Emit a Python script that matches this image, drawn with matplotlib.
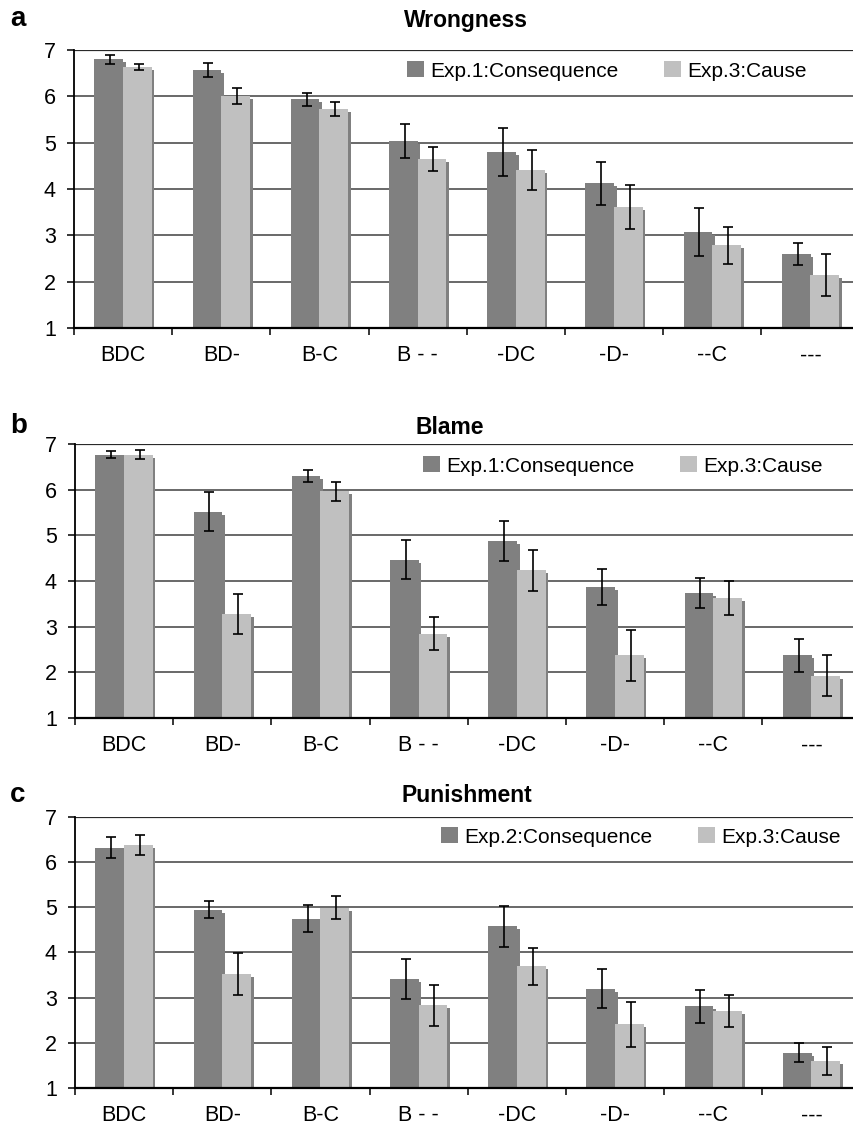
import numpy as np
import matplotlib
matplotlib.use('Agg')
import matplotlib.pyplot as plt

plt.rcParams['font.family'] = ['Liberation Sans', 'DejaVu Sans']

categories = ['BDC', 'BD-', 'B-C', 'B - -', '-DC', '-D-', '--C', '---']

# a: Wrongness
wrong_cons = [6.80, 6.57, 5.94, 5.03, 4.79, 4.12, 3.07, 2.59]
wrong_cons_err = [0.10, 0.15, 0.14, 0.37, 0.52, 0.47, 0.51, 0.24]
wrong_cause = [6.63, 6.01, 5.73, 4.64, 4.41, 3.61, 2.79, 2.14]
wrong_cause_err = [0.07, 0.18, 0.15, 0.26, 0.43, 0.47, 0.40, 0.45]

# b: Blame
blame_cons = [6.77, 5.52, 6.30, 4.47, 4.87, 3.87, 3.73, 2.37]
blame_cons_err = [0.07, 0.42, 0.13, 0.43, 0.44, 0.39, 0.33, 0.37]
blame_cause = [6.77, 3.28, 5.96, 2.85, 4.23, 2.37, 3.62, 1.93]
blame_cause_err = [0.10, 0.44, 0.20, 0.36, 0.44, 0.55, 0.37, 0.44]

# c: Punishment
pun_cons = [6.32, 4.95, 4.75, 3.42, 4.58, 3.20, 2.81, 1.78]
pun_cons_err = [0.23, 0.18, 0.30, 0.44, 0.45, 0.43, 0.36, 0.21]
pun_cause = [6.38, 3.53, 4.99, 2.83, 3.70, 2.41, 2.70, 1.59]
pun_cause_err = [0.23, 0.46, 0.25, 0.45, 0.41, 0.50, 0.35, 0.31]

W, H = 854, 1132
fig = plt.figure(figsize=(W / 100, H / 100), dpi=100)

DARK = '#808080'
LIGHT = '#C0C0C0'
SHADOW = '#808080'


def panel(letter, title, cons, cons_err, cause, cause_err, leg1,
          left, top, bottom, title_x, title_y, letter_y, leg_x, leg_y):
    ax = fig.add_axes([left / W, 1 - bottom / H, (W - left) / W, (bottom - top) / H])
    x = np.arange(len(categories))
    bw = 0.292
    ppu = (bottom - top) / 6.0
    dx = 2.7 / 98.2
    dy = 3.0 / ppu

    # drop shadows behind the bars
    ax.bar(x - bw / 2 + dx, np.array(cons) - dy, bw, color=SHADOW, zorder=2)
    ax.bar(x + bw / 2 + dx, np.array(cause) - dy, bw, color=SHADOW, zorder=2)
    b1 = ax.bar(x - bw / 2, cons, bw, color=DARK, zorder=3, label=leg1)
    b2 = ax.bar(x + bw / 2, cause, bw, color=LIGHT, zorder=3, label='Exp.3:Cause')
    ax.errorbar(x - bw / 2 + dx / 2, cons, yerr=cons_err, fmt='none', ecolor='black',
                elinewidth=1.2, capsize=3.4, capthick=1.2, zorder=5)
    ax.errorbar(x + bw / 2 + dx / 2, cause, yerr=cause_err, fmt='none', ecolor='black',
                elinewidth=1.2, capsize=3.4, capthick=1.2, zorder=5)

    ax.set_ylim(1, 7)
    ax.set_xlim(-0.5, -0.5 + (W - left) / 98.2)
    ax.set_yticks(range(1, 8))
    for yv in range(2, 8):
        ax.axhline(yv, color='#2a2a2a' if yv == 7 else '#404040',
                   lw=1.6 if yv == 7 else 1.1, zorder=1)

    ax.set_xticks(np.arange(-0.5, 7.0, 1.0))
    ax.set_xticklabels([])
    ax.set_xticks(x, minor=True)
    ax.set_xticklabels(categories, minor=True, fontsize=15.5)
    ax.tick_params(axis='x', which='major', length=5, width=1.1, direction='out')
    ax.tick_params(axis='x', which='minor', length=0, pad=12.5)
    ax.tick_params(axis='y', length=5, width=1.1, direction='out', pad=8, labelsize=15.5)

    for s in ['top', 'right']:
        ax.spines[s].set_visible(False)
    ax.spines['left'].set_linewidth(1.3)
    ax.spines['bottom'].set_linewidth(1.6)
    ax.spines['bottom'].set_zorder(6)

    fig.text(title_x / W, 1 - title_y / H, title, ha='center', va='baseline',
             fontsize=16.5, fontweight='bold')
    fig.text(10 / W, 1 - letter_y / H, letter, ha='left', va='baseline',
             fontsize=20, fontweight='bold')
    ax.legend(handles=[b1, b2], loc='center left', ncol=2, frameon=False,
              bbox_to_anchor=(leg_x / W, 1 - leg_y / H), bbox_transform=fig.transFigure,
              fontsize=15, handlelength=0.8, handleheight=0.8, handletextpad=0.3,
              columnspacing=2.2, borderpad=0, borderaxespad=0)
    return ax


panel('a', 'Wrongness', wrong_cons, wrong_cons_err, wrong_cause, wrong_cause_err,
      'Exp.1:Consequence', 74, 50, 328, 466, 27, 26, 407, 71)
panel('b', 'Blame', blame_cons, blame_cons_err, blame_cause, blame_cause_err,
      'Exp.1:Consequence', 75, 444, 718, 450, 434, 433, 423, 466)
panel('c', 'Punishment', pun_cons, pun_cons_err, pun_cause, pun_cause_err,
      'Exp.2:Consequence', 75, 817, 1088, 467, 802, 802, 441, 837)

fig.savefig('out.png', dpi=100)
